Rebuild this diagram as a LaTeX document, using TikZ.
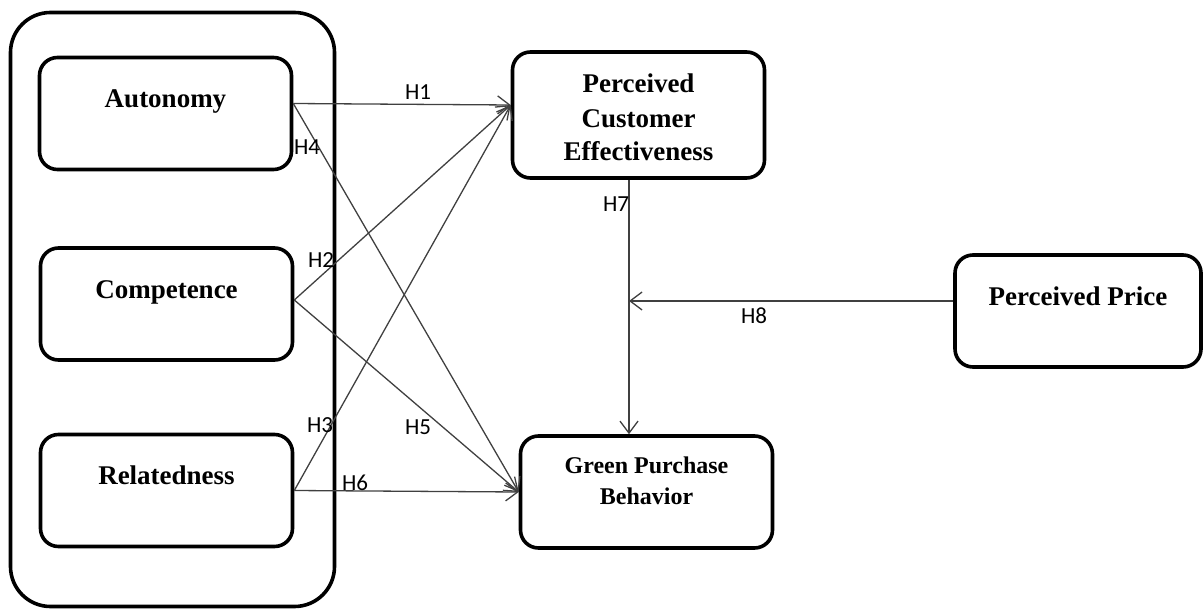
\documentclass[tikz,border=0pt]{standalone}
\usepackage{fontspec}
\setmainfont{Liberation Serif}
\newfontfamily\hypfont{Carlito}
\usetikzlibrary{arrows.meta}

\begin{document}
\begin{tikzpicture}[x=0.5pt,y=-0.5pt]
        \tikzset{construct/.style = {draw,line width=1.8pt,rounded corners=9pt,minimum width=126pt,minimum height=56pt,
                 font=\fontsize{13.5}{17}\selectfont\bfseries,align=center}}
        \tikzset{raised/.style = {text height=9pt,text depth=15pt}}
        \tikzset{path/.style = {draw=black!75,line width=0.65pt,-{Straight Barb[length=6pt,width=9pt]}}}
        \tikzset{hyp/.style = {font=\hypfont\fontsize{11.5}{13}\selectfont,inner sep=0pt}}

        \useasboundingbox (0,0) rectangle (1204,610);

        % motivation block
        \node[draw,line width=1.8pt,rounded corners=20pt,minimum width=162pt,minimum height=297pt] (needs) at (172.5,309.5) {};
        \node[construct,raised] (auto) at (165.5,113.5) {Autonomy};
        \node[construct,raised] (comp) at (166.5,304) {Competence};
        \node[construct,raised] (rel) at (166.5,490.5) {Relatedness};

        \node[construct,minimum height=63pt,inner ysep=2pt,text height=50pt,text depth=4pt] (pce) at (638.5,115) {Perceived\\Customer\\Effectiveness};
        \node[construct,font=\fontsize{12}{15.5}\selectfont\bfseries,text height=22pt,text depth=10pt] (gpb) at (646.5,492) {Green Purchase\\Behavior};
        \node[construct,raised,minimum width=123pt] (price) at (1078,311) {Perceived Price};

        \coordinate (meet) at (629,301);

        \draw[path] ([yshift=5pt]auto.east) -- ([yshift=5pt]pce.west);
        \draw[path] ([yshift=5pt]auto.east) -- (gpb.west);
        \draw[path] ([yshift=2pt]comp.east) -- ([yshift=5pt]pce.west);
        \draw[path] ([yshift=2pt]comp.east) -- (gpb.west);
        \draw[path] (rel.east) -- ([yshift=5pt]pce.west);
        \draw[path] (rel.east) -- (gpb.west);
        \draw[path] (pce.south -| meet) -- (gpb.north -| meet);
        \draw[path] (price.west |- meet) -- (meet);

        \node[hyp] (h1) at (418,92) {H1};
        \node[hyp] (h2) at (321,260) {H2};
        \node[hyp] (h3) at (320,425) {H3};
        \node[hyp] (h4) at (307,147) {H4};
        \node[hyp] (h5) at (418,427) {H5};
        \node[hyp] (h6) at (355,483) {H6};
        \node[hyp] (h7) at (616,204) {H7};
        \node[hyp] (h8) at (754,316) {H8};
\end{tikzpicture}
\end{document}
